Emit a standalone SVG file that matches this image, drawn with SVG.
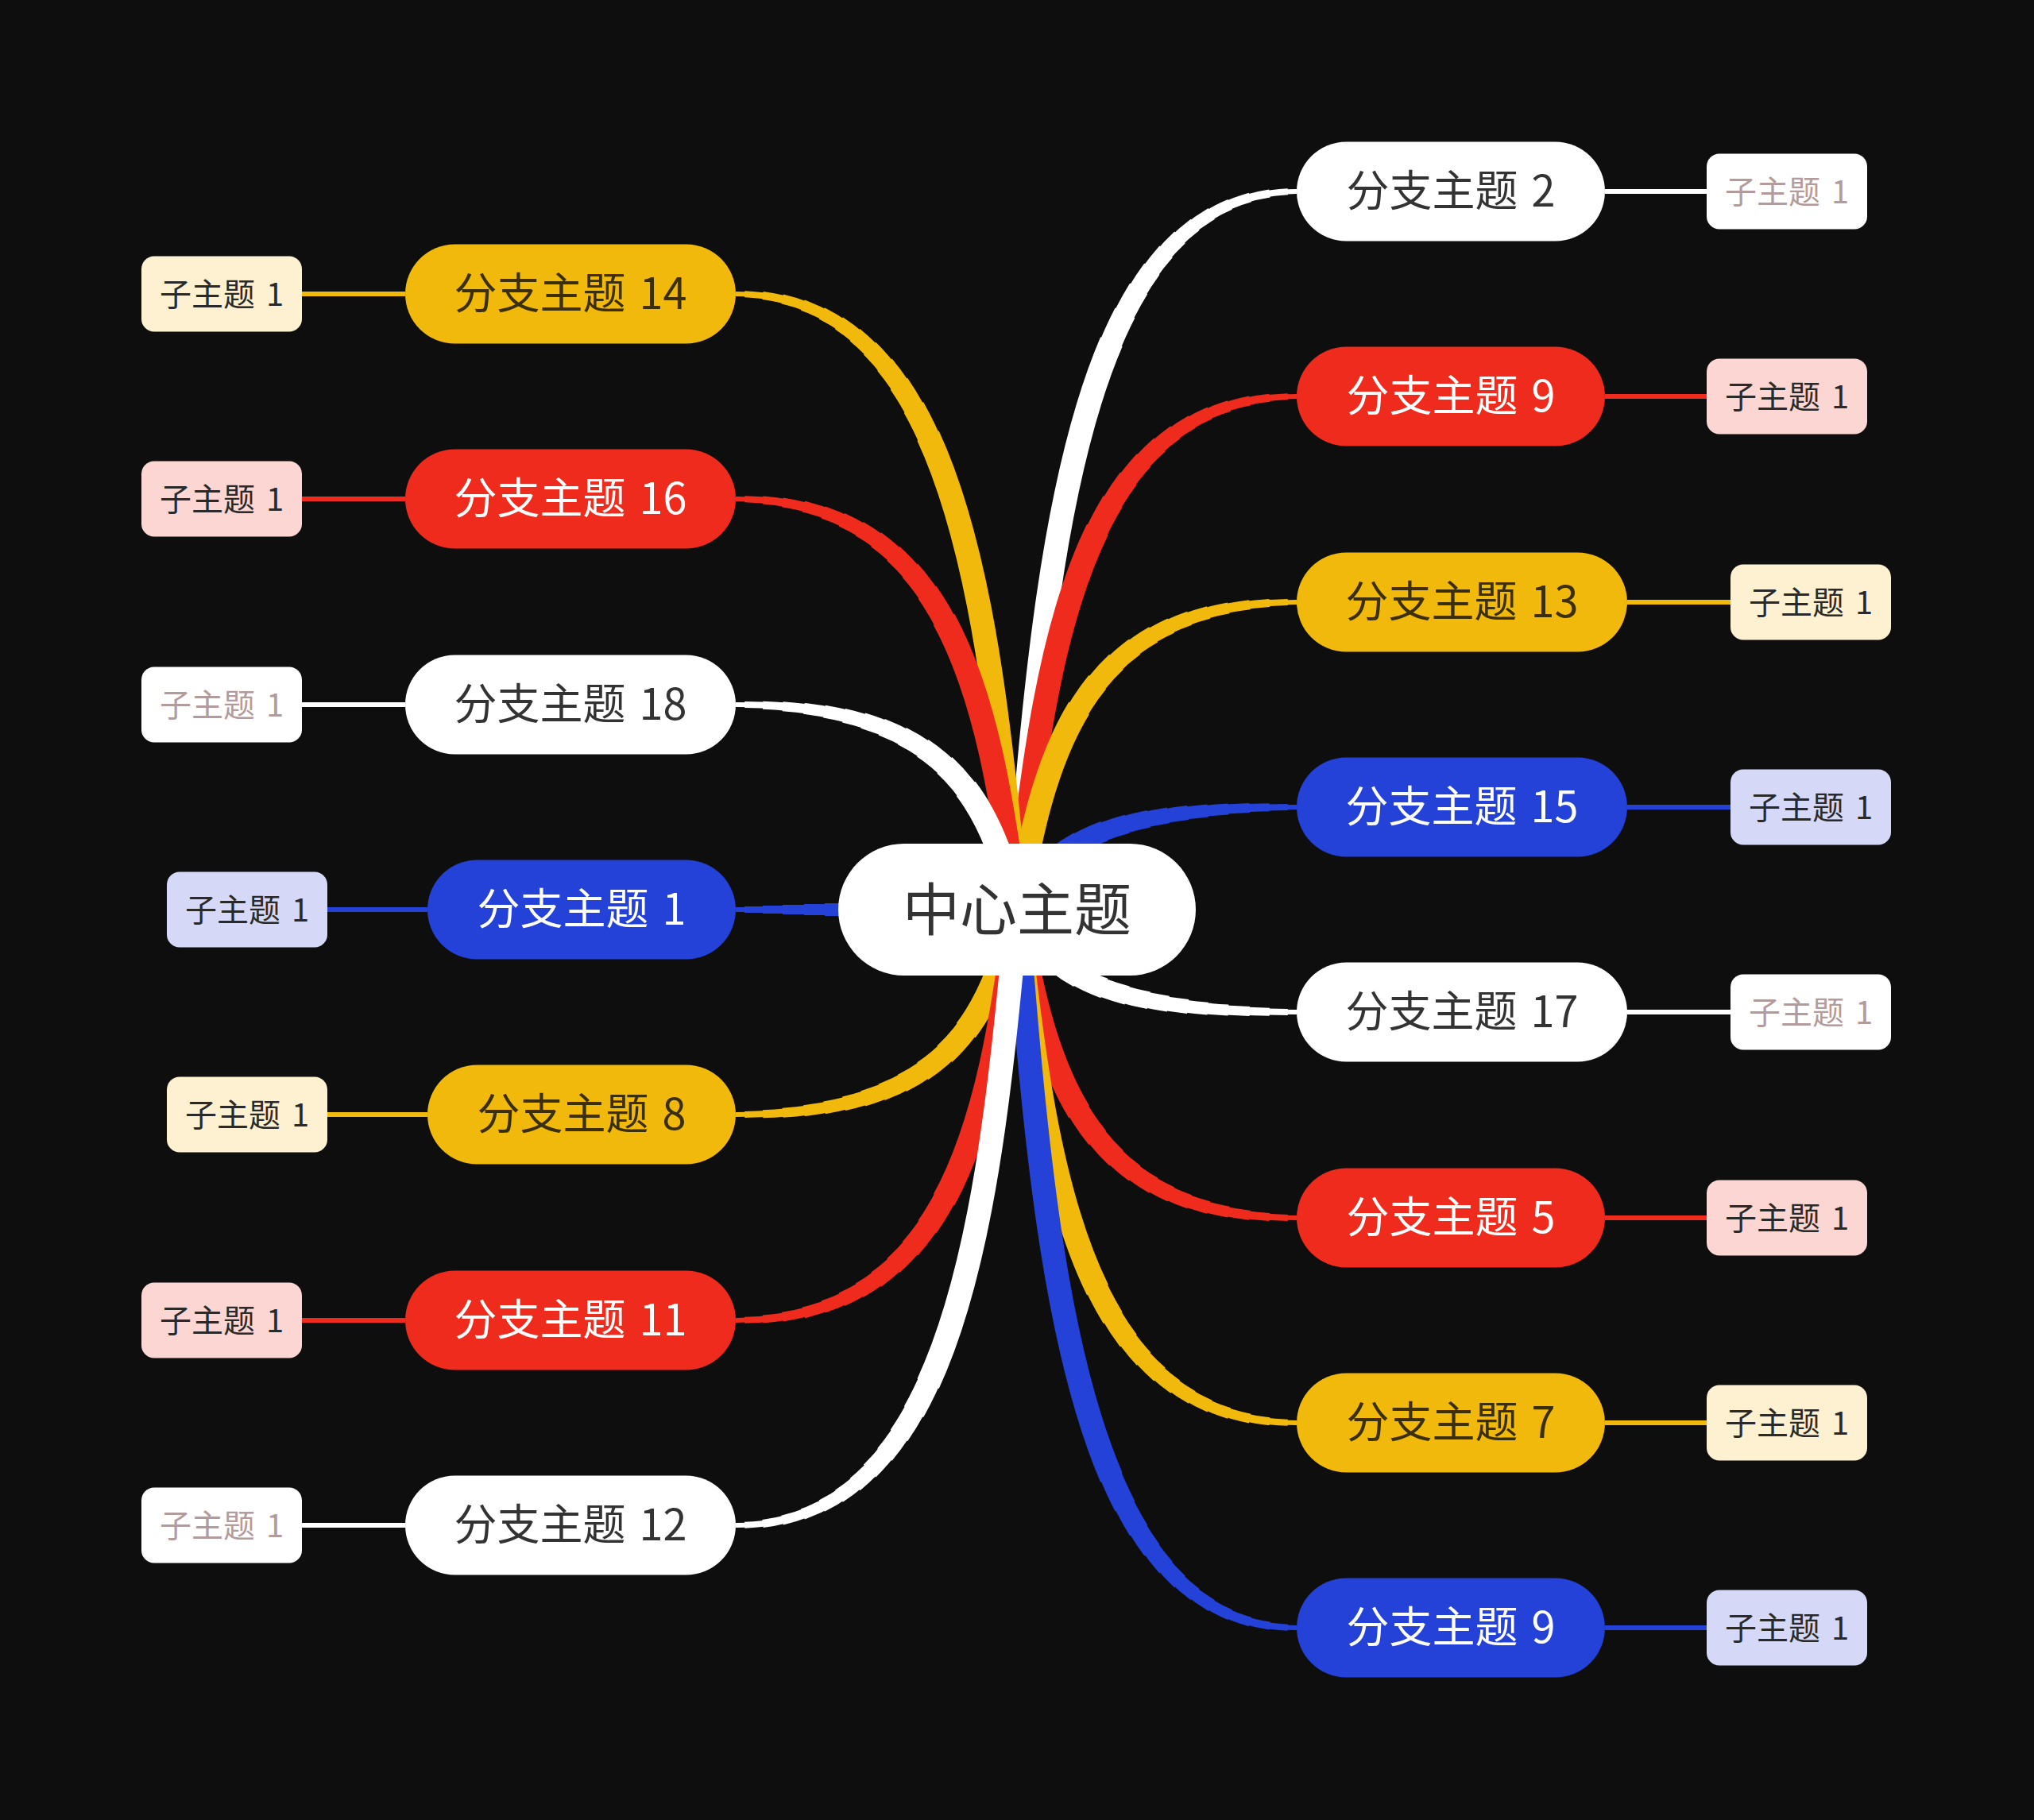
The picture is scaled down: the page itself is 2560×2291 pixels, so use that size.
<svg xmlns="http://www.w3.org/2000/svg" width="2560" height="2291" viewBox="0 0 2560 2291">
<style>
text{font-family:"Noto Sans CJK SC","Noto Sans",sans-serif;text-anchor:middle}
.tc{font-size:72px;fill:#333}
.tb{font-size:54px}
.ts{font-size:40px;fill:#2a2a2a}
.tdark{fill:#333}.tyel{fill:#3a2f06}.tlight{fill:#fff}.tsw{fill:#b49b9b}
.nw{fill:#fff}.nr{fill:#EE2B1C}.ny{fill:#F0B90B}.nb{fill:#2441D8}
.sw{fill:#fff}.sr{fill:#FCD6D2}.sy{fill:#FDF1D1}.sb{fill:#D5D9F7}
.k{fill:none;stroke-linecap:butt;stroke-dasharray:99999 99999}
.kw{stroke:#fff}.kr{stroke:#EE2B1C}.ky{stroke:#F0B90B}.kb{stroke:#2441D8}
.w6{stroke-width:6;stroke-dasharray:none}
.w8{stroke-width:8;stroke-dashoffset:-11}
.w10{stroke-width:10;stroke-dashoffset:-34}
.w12{stroke-width:12;stroke-dashoffset:-59}
.w14{stroke-width:14;stroke-dashoffset:-86}
.w16{stroke-width:16;stroke-dashoffset:-112}
.w18{stroke-width:18;stroke-dashoffset:-137}
.w20{stroke-width:20;stroke-dashoffset:-162}
.w22{stroke-width:22;stroke-dashoffset:-187}
.w24{stroke-width:24;stroke-dashoffset:-215}
.w26{stroke-width:26;stroke-dashoffset:-245}
.w28{stroke-width:28;stroke-dashoffset:-280}
.w30{stroke-width:30;stroke-dashoffset:-320}
.sl{fill:none;stroke-width:6}
</style>
<defs>
<path id="pL1" d="M926,1145 L1280,1145"/>
<path id="pR2" d="M1632,241 C1357,241 1315,693 1280,1145"/>
<path id="pR5" d="M1632,1533 C1357,1533 1315,1339 1280,1145"/>
<path id="pR7" d="M1632,1791 C1357,1791 1315,1468 1280,1145"/>
<path id="pL8" d="M926,1403 C1202,1403 1245,1274 1280,1145"/>
<path id="pR9a" d="M1632,499 C1357,499 1315,822 1280,1145"/>
<path id="pR9b" d="M1632,2049 C1357,2049 1315,1597 1280,1145"/>
<path id="pL11" d="M926,1662 C1202,1662 1245,1403 1280,1145"/>
<path id="pL12" d="M926,1920 C1202,1920 1245,1533 1280,1145"/>
<path id="pR13" d="M1632,758 C1357,758 1315,952 1280,1145"/>
<path id="pL14" d="M926,370 C1202,370 1245,758 1280,1145"/>
<path id="pR15" d="M1632,1016 C1357,1016 1315,1081 1280,1145"/>
<path id="pL16" d="M926,628 C1202,628 1245,887 1280,1145"/>
<path id="pR17" d="M1632,1274 C1357,1274 1315,1210 1280,1145"/>
<path id="pL18" d="M926,887 C1202,887 1245,1016 1280,1145"/>
</defs>
<rect width="2560" height="2291" fill="#0e0e0e"/>
<g id="connectors">
<g class="k kb"><use href="#pL1" class="w6"/><use href="#pL1" class="w8"/><use href="#pL1" class="w10"/><use href="#pL1" class="w12"/><use href="#pL1" class="w14"/><use href="#pL1" class="w16"/><use href="#pL1" class="w18"/><use href="#pL1" class="w20"/><use href="#pL1" class="w22"/><use href="#pL1" class="w24"/><use href="#pL1" class="w26"/><use href="#pL1" class="w28"/><use href="#pL1" class="w30"/></g>
<g class="k kw"><use href="#pR2" class="w6"/><use href="#pR2" class="w8"/><use href="#pR2" class="w10"/><use href="#pR2" class="w12"/><use href="#pR2" class="w14"/><use href="#pR2" class="w16"/><use href="#pR2" class="w18"/><use href="#pR2" class="w20"/><use href="#pR2" class="w22"/><use href="#pR2" class="w24"/><use href="#pR2" class="w26"/><use href="#pR2" class="w28"/><use href="#pR2" class="w30"/></g>
<g class="k kr"><use href="#pR5" class="w6"/><use href="#pR5" class="w8"/><use href="#pR5" class="w10"/><use href="#pR5" class="w12"/><use href="#pR5" class="w14"/><use href="#pR5" class="w16"/><use href="#pR5" class="w18"/><use href="#pR5" class="w20"/><use href="#pR5" class="w22"/><use href="#pR5" class="w24"/><use href="#pR5" class="w26"/><use href="#pR5" class="w28"/><use href="#pR5" class="w30"/></g>
<g class="k ky"><use href="#pR7" class="w6"/><use href="#pR7" class="w8"/><use href="#pR7" class="w10"/><use href="#pR7" class="w12"/><use href="#pR7" class="w14"/><use href="#pR7" class="w16"/><use href="#pR7" class="w18"/><use href="#pR7" class="w20"/><use href="#pR7" class="w22"/><use href="#pR7" class="w24"/><use href="#pR7" class="w26"/><use href="#pR7" class="w28"/><use href="#pR7" class="w30"/></g>
<g class="k ky"><use href="#pL8" class="w6"/><use href="#pL8" class="w8"/><use href="#pL8" class="w10"/><use href="#pL8" class="w12"/><use href="#pL8" class="w14"/><use href="#pL8" class="w16"/><use href="#pL8" class="w18"/><use href="#pL8" class="w20"/><use href="#pL8" class="w22"/><use href="#pL8" class="w24"/><use href="#pL8" class="w26"/><use href="#pL8" class="w28"/><use href="#pL8" class="w30"/></g>
<g class="k kr"><use href="#pR9a" class="w6"/><use href="#pR9a" class="w8"/><use href="#pR9a" class="w10"/><use href="#pR9a" class="w12"/><use href="#pR9a" class="w14"/><use href="#pR9a" class="w16"/><use href="#pR9a" class="w18"/><use href="#pR9a" class="w20"/><use href="#pR9a" class="w22"/><use href="#pR9a" class="w24"/><use href="#pR9a" class="w26"/><use href="#pR9a" class="w28"/><use href="#pR9a" class="w30"/></g>
<g class="k kb"><use href="#pR9b" class="w6"/><use href="#pR9b" class="w8"/><use href="#pR9b" class="w10"/><use href="#pR9b" class="w12"/><use href="#pR9b" class="w14"/><use href="#pR9b" class="w16"/><use href="#pR9b" class="w18"/><use href="#pR9b" class="w20"/><use href="#pR9b" class="w22"/><use href="#pR9b" class="w24"/><use href="#pR9b" class="w26"/><use href="#pR9b" class="w28"/><use href="#pR9b" class="w30"/></g>
<g class="k kr"><use href="#pL11" class="w6"/><use href="#pL11" class="w8"/><use href="#pL11" class="w10"/><use href="#pL11" class="w12"/><use href="#pL11" class="w14"/><use href="#pL11" class="w16"/><use href="#pL11" class="w18"/><use href="#pL11" class="w20"/><use href="#pL11" class="w22"/><use href="#pL11" class="w24"/><use href="#pL11" class="w26"/><use href="#pL11" class="w28"/><use href="#pL11" class="w30"/></g>
<g class="k kw"><use href="#pL12" class="w6"/><use href="#pL12" class="w8"/><use href="#pL12" class="w10"/><use href="#pL12" class="w12"/><use href="#pL12" class="w14"/><use href="#pL12" class="w16"/><use href="#pL12" class="w18"/><use href="#pL12" class="w20"/><use href="#pL12" class="w22"/><use href="#pL12" class="w24"/><use href="#pL12" class="w26"/><use href="#pL12" class="w28"/><use href="#pL12" class="w30"/></g>
<g class="k ky"><use href="#pR13" class="w6"/><use href="#pR13" class="w8"/><use href="#pR13" class="w10"/><use href="#pR13" class="w12"/><use href="#pR13" class="w14"/><use href="#pR13" class="w16"/><use href="#pR13" class="w18"/><use href="#pR13" class="w20"/><use href="#pR13" class="w22"/><use href="#pR13" class="w24"/><use href="#pR13" class="w26"/><use href="#pR13" class="w28"/><use href="#pR13" class="w30"/></g>
<g class="k ky"><use href="#pL14" class="w6"/><use href="#pL14" class="w8"/><use href="#pL14" class="w10"/><use href="#pL14" class="w12"/><use href="#pL14" class="w14"/><use href="#pL14" class="w16"/><use href="#pL14" class="w18"/><use href="#pL14" class="w20"/><use href="#pL14" class="w22"/><use href="#pL14" class="w24"/><use href="#pL14" class="w26"/><use href="#pL14" class="w28"/><use href="#pL14" class="w30"/></g>
<g class="k kb"><use href="#pR15" class="w6"/><use href="#pR15" class="w8"/><use href="#pR15" class="w10"/><use href="#pR15" class="w12"/><use href="#pR15" class="w14"/><use href="#pR15" class="w16"/><use href="#pR15" class="w18"/><use href="#pR15" class="w20"/><use href="#pR15" class="w22"/><use href="#pR15" class="w24"/><use href="#pR15" class="w26"/><use href="#pR15" class="w28"/><use href="#pR15" class="w30"/></g>
<g class="k kr"><use href="#pL16" class="w6"/><use href="#pL16" class="w8"/><use href="#pL16" class="w10"/><use href="#pL16" class="w12"/><use href="#pL16" class="w14"/><use href="#pL16" class="w16"/><use href="#pL16" class="w18"/><use href="#pL16" class="w20"/><use href="#pL16" class="w22"/><use href="#pL16" class="w24"/><use href="#pL16" class="w26"/><use href="#pL16" class="w28"/><use href="#pL16" class="w30"/></g>
<g class="k kw"><use href="#pR17" class="w6"/><use href="#pR17" class="w8"/><use href="#pR17" class="w10"/><use href="#pR17" class="w12"/><use href="#pR17" class="w14"/><use href="#pR17" class="w16"/><use href="#pR17" class="w18"/><use href="#pR17" class="w20"/><use href="#pR17" class="w22"/><use href="#pR17" class="w24"/><use href="#pR17" class="w26"/><use href="#pR17" class="w28"/><use href="#pR17" class="w30"/></g>
<g class="k kw"><use href="#pL18" class="w6"/><use href="#pL18" class="w8"/><use href="#pL18" class="w10"/><use href="#pL18" class="w12"/><use href="#pL18" class="w14"/><use href="#pL18" class="w16"/><use href="#pL18" class="w18"/><use href="#pL18" class="w20"/><use href="#pL18" class="w22"/><use href="#pL18" class="w24"/><use href="#pL18" class="w26"/><use href="#pL18" class="w28"/><use href="#pL18" class="w30"/></g>
<path class="sl kw" d="M2020,241 H2148"/>
<path class="sl kr" d="M2020,499 H2148"/>
<path class="sl ky" d="M2048,758 H2178"/>
<path class="sl kb" d="M2048,1016 H2178"/>
<path class="sl kw" d="M2048,1274 H2178"/>
<path class="sl kr" d="M2020,1533 H2148"/>
<path class="sl ky" d="M2020,1791 H2148"/>
<path class="sl kb" d="M2020,2049 H2148"/>
<path class="sl ky" d="M380,370 H510"/>
<path class="sl kr" d="M380,628 H510"/>
<path class="sl kw" d="M380,887 H510"/>
<path class="sl kb" d="M412,1145 H538"/>
<path class="sl ky" d="M412,1403 H538"/>
<path class="sl kr" d="M380,1662 H510"/>
<path class="sl kw" d="M380,1920 H510"/>
</g>
<g id="center"><rect x="1055" y="1062" width="450" height="166" rx="83" fill="#fff"/><text x="1280" y="1171" class="tc">中心主题</text></g>
<g id="branch-r2"><rect class="nw" x="1632" y="178.5" width="388" height="125" rx="62.5"/><text class="tb tdark" x="1826" y="259.5">分支主题 <tspan dx="5">2</tspan></text></g>
<g id="sub-r2"><rect class="sw" x="2148" y="193.5" width="202" height="95" rx="16"/><text class="ts tsw" x="2249" y="256">子主题 <tspan dx="5">1</tspan></text></g>
<g id="branch-r9a"><rect class="nr" x="1632" y="436.5" width="388" height="125" rx="62.5"/><text class="tb tlight" x="1826" y="517.5">分支主题 <tspan dx="5">9</tspan></text></g>
<g id="sub-r9a"><rect class="sr" x="2148" y="451.5" width="202" height="95" rx="16"/><text class="ts" x="2249" y="514">子主题 <tspan dx="5">1</tspan></text></g>
<g id="branch-r13"><rect class="ny" x="1632" y="695.5" width="416" height="125" rx="62.5"/><text class="tb tyel" x="1840" y="776.5">分支主题 <tspan dx="5">13</tspan></text></g>
<g id="sub-r13"><rect class="sy" x="2178" y="710.5" width="202" height="95" rx="16"/><text class="ts" x="2279" y="773">子主题 <tspan dx="5">1</tspan></text></g>
<g id="branch-r15"><rect class="nb" x="1632" y="953.5" width="416" height="125" rx="62.5"/><text class="tb tlight" x="1840" y="1034.5">分支主题 <tspan dx="5">15</tspan></text></g>
<g id="sub-r15"><rect class="sb" x="2178" y="968.5" width="202" height="95" rx="16"/><text class="ts" x="2279" y="1031">子主题 <tspan dx="5">1</tspan></text></g>
<g id="branch-r17"><rect class="nw" x="1632" y="1211.5" width="416" height="125" rx="62.5"/><text class="tb tdark" x="1840" y="1292.5">分支主题 <tspan dx="5">17</tspan></text></g>
<g id="sub-r17"><rect class="sw" x="2178" y="1226.5" width="202" height="95" rx="16"/><text class="ts tsw" x="2279" y="1289">子主题 <tspan dx="5">1</tspan></text></g>
<g id="branch-r5"><rect class="nr" x="1632" y="1470.5" width="388" height="125" rx="62.5"/><text class="tb tlight" x="1826" y="1551.5">分支主题 <tspan dx="5">5</tspan></text></g>
<g id="sub-r5"><rect class="sr" x="2148" y="1485.5" width="202" height="95" rx="16"/><text class="ts" x="2249" y="1548">子主题 <tspan dx="5">1</tspan></text></g>
<g id="branch-r7"><rect class="ny" x="1632" y="1728.5" width="388" height="125" rx="62.5"/><text class="tb tyel" x="1826" y="1809.5">分支主题 <tspan dx="5">7</tspan></text></g>
<g id="sub-r7"><rect class="sy" x="2148" y="1743.5" width="202" height="95" rx="16"/><text class="ts" x="2249" y="1806">子主题 <tspan dx="5">1</tspan></text></g>
<g id="branch-r9b"><rect class="nb" x="1632" y="1986.5" width="388" height="125" rx="62.5"/><text class="tb tlight" x="1826" y="2067.5">分支主题 <tspan dx="5">9</tspan></text></g>
<g id="sub-r9b"><rect class="sb" x="2148" y="2001.5" width="202" height="95" rx="16"/><text class="ts" x="2249" y="2064">子主题 <tspan dx="5">1</tspan></text></g>
<g id="branch-l14"><rect class="ny" x="510" y="307.5" width="416" height="125" rx="62.5"/><text class="tb tyel" x="718" y="388.5">分支主题 <tspan dx="5">14</tspan></text></g>
<g id="sub-l14"><rect class="sy" x="178" y="322.5" width="202" height="95" rx="16"/><text class="ts" x="279" y="385">子主题 <tspan dx="5">1</tspan></text></g>
<g id="branch-l16"><rect class="nr" x="510" y="565.5" width="416" height="125" rx="62.5"/><text class="tb tlight" x="718" y="646.5">分支主题 <tspan dx="5">16</tspan></text></g>
<g id="sub-l16"><rect class="sr" x="178" y="580.5" width="202" height="95" rx="16"/><text class="ts" x="279" y="643">子主题 <tspan dx="5">1</tspan></text></g>
<g id="branch-l18"><rect class="nw" x="510" y="824.5" width="416" height="125" rx="62.5"/><text class="tb tdark" x="718" y="905.5">分支主题 <tspan dx="5">18</tspan></text></g>
<g id="sub-l18"><rect class="sw" x="178" y="839.5" width="202" height="95" rx="16"/><text class="ts tsw" x="279" y="902">子主题 <tspan dx="5">1</tspan></text></g>
<g id="branch-l1"><rect class="nb" x="538" y="1082.5" width="388" height="125" rx="62.5"/><text class="tb tlight" x="732" y="1163.5">分支主题 <tspan dx="5">1</tspan></text></g>
<g id="sub-l1"><rect class="sb" x="210" y="1097.5" width="202" height="95" rx="16"/><text class="ts" x="311" y="1160">子主题 <tspan dx="5">1</tspan></text></g>
<g id="branch-l8"><rect class="ny" x="538" y="1340.5" width="388" height="125" rx="62.5"/><text class="tb tyel" x="732" y="1421.5">分支主题 <tspan dx="5">8</tspan></text></g>
<g id="sub-l8"><rect class="sy" x="210" y="1355.5" width="202" height="95" rx="16"/><text class="ts" x="311" y="1418">子主题 <tspan dx="5">1</tspan></text></g>
<g id="branch-l11"><rect class="nr" x="510" y="1599.5" width="416" height="125" rx="62.5"/><text class="tb tlight" x="718" y="1680.5">分支主题 <tspan dx="5">11</tspan></text></g>
<g id="sub-l11"><rect class="sr" x="178" y="1614.5" width="202" height="95" rx="16"/><text class="ts" x="279" y="1677">子主题 <tspan dx="5">1</tspan></text></g>
<g id="branch-l12"><rect class="nw" x="510" y="1857.5" width="416" height="125" rx="62.5"/><text class="tb tdark" x="718" y="1938.5">分支主题 <tspan dx="5">12</tspan></text></g>
<g id="sub-l12"><rect class="sw" x="178" y="1872.5" width="202" height="95" rx="16"/><text class="ts tsw" x="279" y="1935">子主题 <tspan dx="5">1</tspan></text></g>
</svg>
